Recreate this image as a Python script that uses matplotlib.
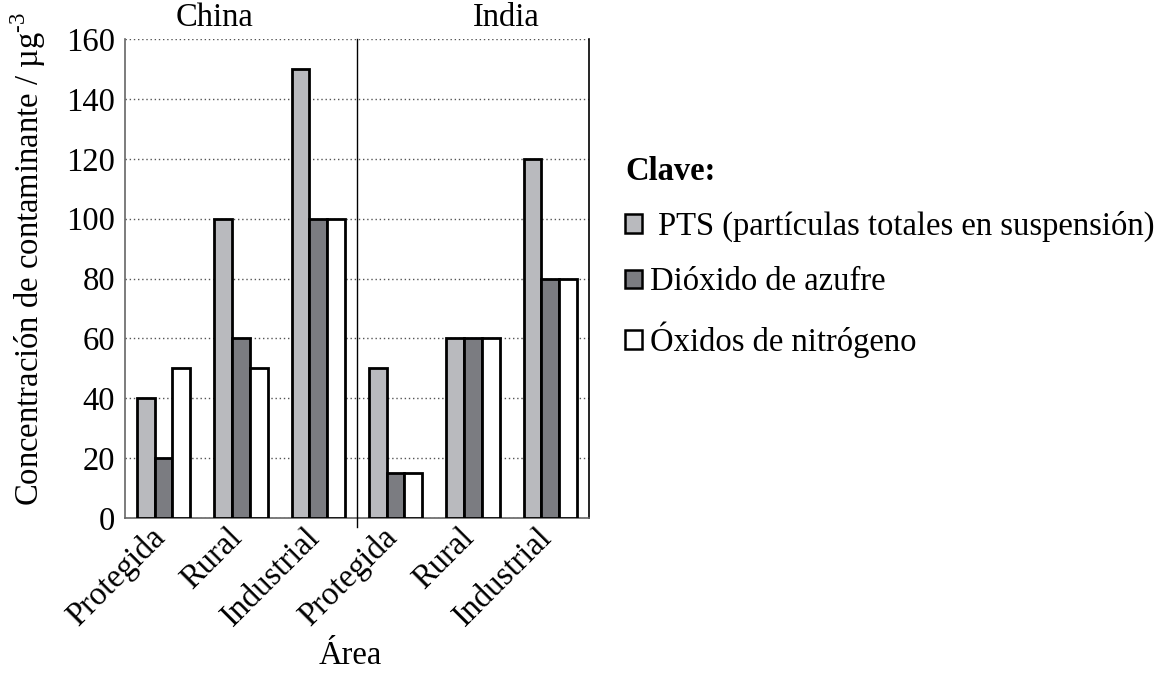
import matplotlib.pyplot as plt
from matplotlib.patches import Patch
import matplotlib.transforms as mtransforms
import numpy as np

# ---------------------------------------------------------------
# data
# ---------------------------------------------------------------
countries = ["China", "India"]
areas = ["Protegida", "Rural", "Industrial"]
tick_labels = areas + areas

pts = [40, 100, 150, 50, 60, 120]        # partículas totales en suspensión
so2 = [20, 60, 100, 15, 60, 80]          # dióxido de azufre
nox = [50, 50, 100, 15, 60, 80]          # óxidos de nitrógeno

series_labels = [" PTS (partículas totales en suspensión)",
                 "Dióxido de azufre",
                 "Óxidos de nitrógeno"]
colors = ["#b9babe", "#7b7c81", "#ffffff"]

FS = 23.5

plt.rcParams["font.family"] = ["Liberation Serif", "DejaVu Serif"]
plt.rcParams["mathtext.fontset"] = "custom"
plt.rcParams["mathtext.rm"] = "Liberation Serif"

fig = plt.figure(figsize=(11.56, 6.92), dpi=100)
ax = fig.add_axes([0.108, 0.2514, 0.4014, 0.6922])

x = np.arange(len(tick_labels))
w = 0.23
for i, (vals, col) in enumerate(zip([pts, so2, nox], colors)):
    ax.bar(x + (i - 1) * w, vals, width=w, color=col, edgecolor="black",
           linewidth=2, zorder=3)

ax.set_xlim(-0.5, len(tick_labels) - 0.5)
ax.set_ylim(0, 160)
ax.set_yticks(np.arange(0, 161, 20))
ax.yaxis.grid(True, linestyle=(0, (1, 2)), color="#555555", linewidth=1)
ax.set_axisbelow(True)

ax.set_xticks(x)
ax.set_xticklabels(tick_labels, rotation=45, ha="right", va="center",
                   rotation_mode="anchor", fontsize=FS)
ax.tick_params(axis="both", length=0, labelsize=FS)
ax.tick_params(axis="y", pad=7)
ax.tick_params(axis="x", pad=11)
# nudge rotated labels a little to the left
shift = mtransforms.ScaledTranslation(-3 / 100, 0, fig.dpi_scale_trans)
for lab in ax.get_xticklabels():
    lab.set_transform(lab.get_transform() + shift)

ax.spines["top"].set_visible(False)
ax.spines["left"].set_color("#666666")
ax.spines["bottom"].set_color("#666666")
ax.spines["right"].set_color("black")
for s in ax.spines.values():
    s.set_linewidth(1.2)

# country separator
ax.axvline(2.5, ymin=-0.018, ymax=1, color="black", linewidth=1,
           clip_on=False, zorder=4)

# country headings
ax.text(0.66, 162, countries[0], fontsize=FS, ha="center", va="bottom")
ax.text(4.43, 162, countries[1], fontsize=FS, ha="center", va="bottom")

fig.text(28 / 1156, 1 - 259 / 692,
         "Concentración de contaminante / µg$^{\\text{-3}}$", fontsize=FS,
         rotation=90, ha="center", va="center")
fig.text(0.303, 0.053, "Área", fontsize=FS, ha="center", va="center")

# legend
handles = [Patch(facecolor=c, edgecolor="black", linewidth=1.8) for c in colors]
leg = fig.legend(handles, series_labels, loc="upper left",
                 bbox_to_anchor=(0.541, 0.775), frameon=False,
                 title="Clave:", alignment="left", fontsize=FS,
                 title_fontproperties={"weight": "bold", "size": FS},
                 handlelength=0.5, handleheight=0.5, handletextpad=0.25,
                 labelspacing=0.75, borderaxespad=0, borderpad=0)

fig.savefig("out.png", dpi=100)
